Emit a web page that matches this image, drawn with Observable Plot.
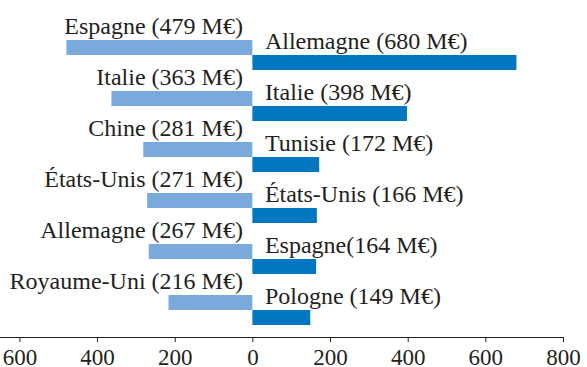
<!DOCTYPE html>
<html><head><meta charset="utf-8">
<script src="https://cdn.jsdelivr.net/npm/d3@7"></script>
<script src="https://cdn.jsdelivr.net/npm/@observablehq/plot@0.6"></script>
<style>
body{margin:0;background:#fff}
svg{display:block}
#chart svg, #chart svg text{font-family:"Liberation Serif","DejaVu Serif",serif !important;}
</style>
</head><body><div id="chart"></div>
<script>
const ranks = [0, 1, 2, 3, 4, 5];
const importCountries = ["Espagne", "Italie", "Chine", "États-Unis", "Allemagne", "Royaume-Uni"];
const importValues = [479, 363, 281, 271, 267, 216];
const importLabels = ["Espagne (479 M€)", "Italie (363 M€)", "Chine (281 M€)", "États-Unis (271 M€)", "Allemagne (267 M€)", "Royaume-Uni (216 M€)"];
const exportCountries = ["Allemagne", "Italie", "Tunisie", "États-Unis", "Espagne", "Pologne"];
const exportValues = [680, 398, 172, 166, 164, 149];
const exportLabels = ["Allemagne (680 M€)", "Italie (398 M€)", "Tunisie (172 M€)", "États-Unis (166 M€)", "Espagne(164 M€)", "Pologne (149 M€)"];
const xTicks = [-600, -400, -200, 0, 200, 400, 600, 800];

const imports = ranks.map(i => ({rank: i, country: importCountries[i], value: -importValues[i], label: importLabels[i]}));
const exportsData = ranks.map(i => ({rank: i, country: exportCountries[i], value: exportValues[i], label: exportLabels[i]}));

const ink = "#231f20";

const chart = Plot.plot({
  width: 587,
  height: 367,
  marginLeft: 0,
  marginRight: 24,
  marginTop: 0,
  marginBottom: 30,
  style: {fontSize: "23px", color: ink, background: "#fff"},
  x: {domain: [-650, 800]},
  y: {type: "band", domain: ranks, range: [39, 326], paddingInner: 0.417, paddingOuter: 0, axis: null},
  marks: [
    Plot.barX(imports, {x1: 0, x2: "value", y: "rank", fill: "#7aaadc", insetBottom: 15}),
    Plot.barX(exportsData, {x1: 0, x2: "value", y: "rank", fill: "#0077c0", insetTop: 15}),
    Plot.text(imports, {x: 0, y: "rank", text: "label", textAnchor: "end", lineAnchor: "bottom", dx: -10, dy: -22, fill: ink, fontSize: 24}),
    Plot.text(exportsData, {x: 0, y: "rank", text: "label", textAnchor: "start", lineAnchor: "bottom", dx: 12, dy: -7, fill: ink, fontSize: 24}),
    Plot.frame({anchor: "bottom", stroke: ink}),
    Plot.axisX({ticks: xTicks, tickFormat: d => Math.abs(d), tickSize: 5, tickPadding: 6, stroke: ink, fill: ink, fontSize: 23, label: null})
  ]
});
document.getElementById("chart").appendChild(chart);
</script>
</body></html>
